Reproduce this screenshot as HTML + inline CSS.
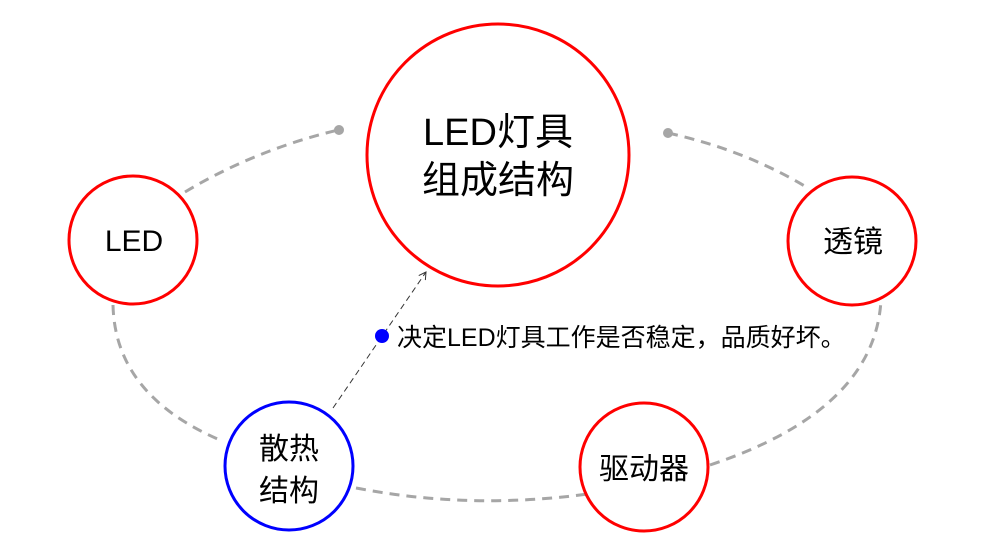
<!DOCTYPE html>
<html><head><meta charset="utf-8"><style>
body{margin:0;background:#fff}
svg text{font-family:"Liberation Sans","Noto Sans CJK SC",sans-serif;fill:#000}
</style></head><body>
<svg width="1000" height="550" viewBox="0 0 1000 550" xmlns="http://www.w3.org/2000/svg">
<defs><marker id="a" markerWidth="10" markerHeight="10" refX="8" refY="5" orient="auto" markerUnits="userSpaceOnUse"><path d="M1,1 L8,5 L1,9" fill="none" stroke="#333" stroke-width="1"/></marker></defs>
<g fill="none" stroke="#a6a6a6" stroke-width="3" stroke-dasharray="10,7">
<path d="M185,192 Q255,150 338,130"/>
<path d="M668,133 Q745,150 808,188"/>
<path d="M113,305 Q115,395 220,440"/>
<path d="M356,488 Q470,510 588,494"/>
<path d="M710,465 Q875,410 881,300"/>
</g>
<circle cx="339" cy="130" r="5" fill="#a6a6a6"/>
<circle cx="668" cy="133" r="5" fill="#a6a6a6"/>
<line x1="333" y1="408" x2="426" y2="272" stroke="#333" stroke-width="1" stroke-dasharray="6,4" marker-end="url(#a)"/>
<g fill="#fff" stroke-width="3">
<circle cx="498" cy="155" r="131" stroke="#f00"/>
<circle cx="133" cy="240" r="64" stroke="#f00"/>
<circle cx="852" cy="241" r="64" stroke="#f00"/>
<circle cx="289" cy="466" r="64" stroke="#00f"/>
<circle cx="644" cy="467" r="64" stroke="#f00"/>
</g>
<circle cx="382" cy="336" r="7" fill="#00f"/>
<text x="498" y="145" font-size="38" text-anchor="middle">LED灯具</text>
<text x="498" y="193" font-size="38" text-anchor="middle">组成结构</text>
<text x="134" y="251" font-size="30" text-anchor="middle">LED</text>
<text x="853" y="252" font-size="30" text-anchor="middle">透镜</text>
<text x="289" y="459" font-size="30" text-anchor="middle">散热</text>
<text x="289" y="501" font-size="30" text-anchor="middle">结构</text>
<text x="644" y="479" font-size="30" text-anchor="middle">驱动器</text>
<text x="397" y="346" font-size="25">决定LED灯具工作是否稳定，品质好坏。</text>
</svg>
</body></html>
